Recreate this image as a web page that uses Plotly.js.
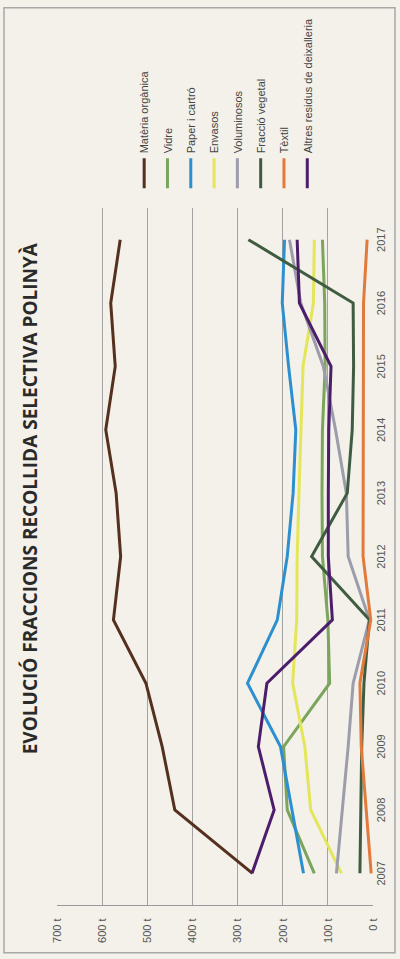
<!DOCTYPE html>
<html>
<head>
<meta charset="utf-8">
<script src="https://cdn.plot.ly/plotly-3.0.1.min.js"></script>
<style>
  html, body { margin: 0; padding: 0; background: #f3f1e9; }
  #wrap { position: relative; width: 400px; height: 959px; overflow: hidden; background: #f3f1e9; }
  #chart { position: absolute; left: 0; top: 0; width: 959px; height: 400px;
           transform-origin: 0 0; transform: translate(0px, 959px) rotate(-90deg); }
</style>
</head>
<body>
<div id="wrap"><div id="chart"></div></div>
<script>
// Years (category axis)
const years = ['2007','2008','2009','2010','2011','2012','2013','2014','2015','2016','2017'];

// Series values (tones)
const organica    = [267, 439, 467, 503, 575, 559, 569, 592, 571, 581, 560];
const vidre       = [130, 190, 198,  96, 100, 112, 113, 112, 106, 107, 112];
const paper       = [154, 180, 205, 278, 212, 190, 177, 171, 187, 201, 196];
const envasos     = [ 70, 138, 151, 178, 169, 168, 164, 160, 155, 132, 130];
const voluminosos = [ 81,  68,  55,  44,   8,  55,  59,  83, 110, 160, 185];
const vegetal     = [ 29,  27,  25,  20,   8, 136,  57,  46,  43,  44, 276];
const textil      = [  4,  15,  26,  29,   5,  22,  22,  22,  22,  21,  13];
const altres      = [268, 219, 254, 235,  90,  99,  99,  98,  93, 163, 168];

// Value axis ticks
const valueTicks = [0, 100, 200, 300, 400, 500, 600, 700];
const valueTickText = ['0 t', '100 t', '200 t', '300 t', '400 t', '500 t', '600 t', '700 t'];

const seriesNames  = ['Matèria orgànica', 'Vidre', 'Paper i cartró', 'Envasos', 'Voluminosos', 'Fracció vegetal', 'Tèxtil', 'Altres residus de deixalleria'];
const seriesValues = [organica, vidre, paper, envasos, voluminosos, vegetal, textil, altres];
const seriesColors = ['#55301f', '#7ba55c', '#2b8fd0', '#e4e65a', '#9c9cab', '#3f5c41', '#e27a3c', '#4b1d6b'];

const traces = seriesNames.map((n, i) => ({
  type: 'scatter', mode: 'lines', name: n, legendgroup: n,
  x: years, y: seriesValues[i],
  line: { color: seriesColors[i], width: 3 }
}));

const layout = {
  width: 959, height: 400,
  margin: { l: 54, r: 205, t: 57, b: 27 },
  paper_bgcolor: '#f3f1e9', plot_bgcolor: '#f3f1e9',
  font: { family: 'Liberation Sans, Arial, sans-serif', color: '#444', size: 10 },
  title: {
    text: 'EVOLUCIÓ FRACCIONS RECOLLIDA SELECTIVA POLINYÀ',
    font: { family: 'Open Sans, Liberation Sans, sans-serif', size: 19, color: '#2a2a2a', weight: 'bold' },
    x: 0.583, xref: 'paper', xanchor: 'center', y: 1 - 30/400, yanchor: 'middle'
  },
  xaxis: {
    type: 'category', range: [-0.5, 10.5], showgrid: false, zeroline: false,
    showline: false, ticks: '', tickfont: { size: 11, color: '#555' }
  },
  yaxis: {
    range: [0, 700], tickvals: valueTicks, ticktext: valueTickText,
    showgrid: true, gridcolor: '#a3a3a3', gridwidth: 1.2, zeroline: false,
    showline: true, linecolor: '#9a9a9a', linewidth: 1.2,
    ticks: '', tickfont: { size: 11, color: '#555' }, ticklabelstandoff: 10
  },
  showlegend: true,
  legend: {
    x: 1.021, xanchor: 'left', y: 0.77, yanchor: 'top',
    bgcolor: 'rgba(0,0,0,0)', font: { size: 11, color: '#444' },
    tracegroupgap: 4.3, itemwidth: 30
  },
  shapes: [{
    type: 'rect', xref: 'paper', yref: 'paper',
    x0: (6 - 54) / 700, x1: (955 - 54) / 700,
    y0: (373 - 395) / 316, y1: (373 - 4) / 316,
    line: { color: '#a8a8a8', width: 1.5 }, fillcolor: 'rgba(0,0,0,0)', layer: 'below'
  }]
};

Plotly.newPlot('chart', traces, layout, { staticPlot: true, displayModeBar: false });
</script>
</body>
</html>
